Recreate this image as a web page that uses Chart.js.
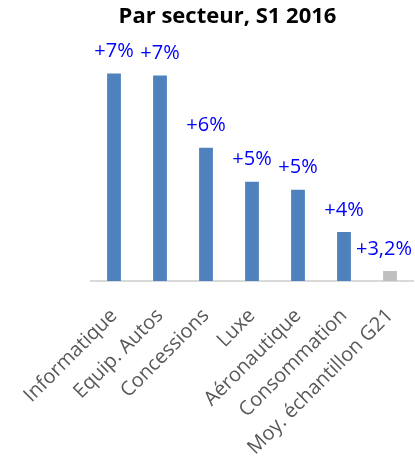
<!DOCTYPE html>
<html>
<head>
<meta charset="utf-8">
<script src="https://cdn.jsdelivr.net/npm/chart.js@4"></script>
<style>
  html, body { margin: 0; padding: 0; background: #ffffff; }
  #wrap { width: 415px; height: 460px; position: relative; }
</style>
</head>
<body>
<div id="wrap"><canvas id="c"></canvas></div>
<script>
const categories = ["Informatique", "Equip. Autos", "Concessions", "Luxe", "Aéronautique", "Consommation", "Moy. échantillon G21"];
const values = [7.14, 7.10, 5.66, 4.98, 4.82, 3.98, 3.20];
const valueLabels = ["+7%", "+7%", "+6%", "+5%", "+5%", "+4%", "+3,2%"];
const barColors = ["#4F81BD", "#4F81BD", "#4F81BD", "#4F81BD", "#4F81BD", "#4F81BD", "#BFBFBF"];
const titleText = "Par secteur, S1 2016";

const valueLabelPlugin = {
  id: 'valueLabels',
  afterDatasetsDraw(chart) {
    const ctx = chart.ctx;
    const meta = chart.getDatasetMeta(0);
    ctx.save();
    ctx.font = '20px "Open Sans"';
    ctx.fillStyle = '#0000FF';
    ctx.textBaseline = 'bottom';
    ctx.textAlign = 'center';
    meta.data.forEach((bar, i) => {
      const txt = valueLabels[i];
      const w = ctx.measureText(txt).width;
      let x = bar.x;
      const maxX = chart.width - 3 - w / 2;
      if (x > maxX) x = maxX;
      ctx.fillText(txt, x, bar.y - 12);
    });
    ctx.restore();
  }
};

new Chart(document.getElementById('c'), {
  type: 'bar',
  data: {
    labels: categories,
    datasets: [{
      data: values,
      backgroundColor: barColors,
      barPercentage: 0.3,
      categoryPercentage: 1.0
    }]
  },
  options: {
    responsive: true,
    maintainAspectRatio: false,
    animation: false,
    layout: { padding: { left: 42, right: 2, top: 0, bottom: 0 } },
    plugins: {
      legend: { display: false },
      tooltip: { enabled: false },
      title: {
        display: true,
        text: titleText,
        color: '#000000',
        font: { family: '"Open Sans"', size: 22, weight: 'bold' },
        padding: { top: 4, bottom: 0 }
      }
    },
    scales: {
      x: {
        grid: { display: false },
        border: { display: true, color: '#D9D9D9', width: 2 },
        ticks: {
          color: '#595959',
          font: { family: '"Open Sans"', size: 20 },
          minRotation: 45,
          maxRotation: 45,
          padding: 15,
          autoSkip: false
        },
        afterFit(scale) {
          scale.height = 179;
          scale.paddingLeft = 91;
          scale.paddingRight = 2;
        }
      },
      y: {
        display: false,
        min: 3,
        max: 8
      }
    }
  },
  plugins: [valueLabelPlugin]
});
</script>
</body>
</html>
